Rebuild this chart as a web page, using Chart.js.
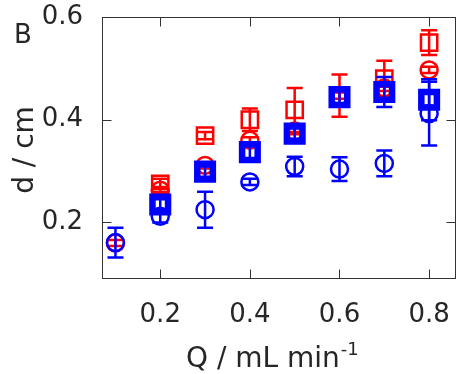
<!DOCTYPE html>
<html>
<head>
<meta charset="utf-8">
<script src="https://cdn.jsdelivr.net/npm/chart.js@4.4.1/dist/chart.umd.min.js"></script>
<style>
  html, body { margin: 0; padding: 0; background: #fff; }
  #c { display: block; }
</style>
</head>
<body>
<canvas id="c" width="457" height="374"></canvas>
<script>
// values (flow rate in mL/min, diameter in cm)
const flowRate = [0.1, 0.2, 0.3, 0.4, 0.5, 0.6, 0.7, 0.8];
const redSquareD    = [null, 0.275, 0.369, 0.400, 0.419, 0.447, 0.480, 0.550];
const redSquareErr  = [null, 0.010, 0.007, 0.022, 0.043, 0.041, 0.035, 0.024];
const redCircleD    = [0.160, 0.263, 0.311, 0.360, 0.378, 0.447, 0.462, 0.497];
const redCircleErr  = [0.006, 0.006, 0.006, 0.006, 0.006, 0.006, 0.006, 0.006];
const blueCircleD   = [0.161, 0.212, 0.225, 0.279, 0.309, 0.304, 0.315, 0.412];
const blueCircleErr = [0.029, 0.012, 0.035, 0.006, 0.019, 0.023, 0.025, 0.062];
const blueSquareD   = [null, 0.235, 0.299, 0.337, 0.373, 0.444, 0.454, 0.439];
const blueSquareErr = [null, 0.010, 0.010, 0.012, 0.010, 0.012, 0.029, 0.040];

const xTicks = [0.2, 0.4, 0.6, 0.8];
const yTicks = [0.2, 0.4, 0.6];
const xRange = [0.07, 0.86];
const yRange = [0.09, 0.6];

const red = "#FF0000";
const blue = "#0000FF";
const axisColor = "#333333";
const textColor = "#262626";
const fontFamily = "'DejaVu Sans', 'Liberation Sans', sans-serif";

function toPoints(d, e) {
    var pts = [];
    for (var i = 0; i < flowRate.length; i++) {
        if (d[i] === null) continue;
        pts.push({ x: flowRate[i], y: d[i], err: e[i] });
    }
    return pts;
}

// error bars drawn just before each dataset's markers
const errorBars = {
    id: 'errorBars',
    beforeDatasetDraw(chart, args) {
        var ds = chart.data.datasets[args.index];
        var xs = chart.scales.x, ys = chart.scales.y;
        var ctx = chart.ctx;
        ctx.save();
        ctx.strokeStyle = ds.borderColor;
        ctx.lineWidth = 2.5;
        ds.data.forEach(function (p) {
            var px = xs.getPixelForValue(p.x);
            var top = ys.getPixelForValue(p.y + p.err);
            var bot = ys.getPixelForValue(p.y - p.err);
            ctx.beginPath();
            ctx.moveTo(px, top); ctx.lineTo(px, bot);
            ctx.moveTo(px - 8, top); ctx.lineTo(px + 8, top);
            ctx.moveTo(px - 8, bot); ctx.lineTo(px + 8, bot);
            ctx.stroke();
        });
        ctx.restore();
    }
};

// matlab style box with inward ticks + labels
const frame = {
    id: 'frame',
    afterDatasetsDraw(chart) {
        var a = chart.chartArea, ctx = chart.ctx;
        var xs = chart.scales.x, ys = chart.scales.y;
        var L = Math.round(a.left) + 0.5, R = Math.round(a.right) - 0.5;
        var T = Math.round(a.top) + 0.5, B = Math.round(a.bottom) - 0.5;
        ctx.save();
        ctx.strokeStyle = axisColor;
        ctx.lineWidth = 1;
        ctx.strokeRect(L, T, R - L, B - T);
        ctx.beginPath();
        xTicks.forEach(function (v) {
            var px = Math.round(xs.getPixelForValue(v)) + 0.5;
            ctx.moveTo(px, B); ctx.lineTo(px, B - 9);
            ctx.moveTo(px, T); ctx.lineTo(px, T + 9);
        });
        yTicks.forEach(function (v) {
            var py = Math.round(ys.getPixelForValue(v)) + 0.5;
            ctx.moveTo(L, py); ctx.lineTo(L + 9, py);
            ctx.moveTo(R, py); ctx.lineTo(R - 9, py);
        });
        ctx.stroke();
        ctx.restore();
    },
    afterDraw(chart) {
        var ctx = chart.ctx;
        ctx.save();
        ctx.fillStyle = textColor;
        ctx.textBaseline = 'alphabetic';

        ctx.font = "26px " + fontFamily;
        ctx.textAlign = 'left';
        ctx.fillText('B', 14, 43);

        // x title with superscript
        ctx.font = "28px " + fontFamily;
        var main = 'Q / mL min';
        var w1 = ctx.measureText(main).width;
        ctx.fillText(main, 186, 367);
        ctx.font = "18px " + fontFamily;
        ctx.fillText('-1', 186 + w1 + 1, 355);

        // y title
        ctx.font = "28px " + fontFamily;
        ctx.translate(33, 150);
        ctx.rotate(-Math.PI / 2);
        ctx.textAlign = 'center';
        ctx.fillText('d / cm', 0, 0);
        ctx.restore();
    }
};

new Chart(document.getElementById('c'), {
    type: 'scatter',
    data: {
        datasets: [
            {
                label: 'red squares',
                data: toPoints(redSquareD, redSquareErr),
                borderColor: red, backgroundColor: 'rgba(0,0,0,0)',
                pointStyle: 'rect', pointRadius: 11.5, borderWidth: 2.5,
                order: 4
            },
            {
                label: 'red circles',
                data: toPoints(redCircleD, redCircleErr),
                borderColor: red, backgroundColor: 'rgba(0,0,0,0)',
                pointStyle: 'circle', pointRadius: 8.5, borderWidth: 2.5,
                order: 3
            },
            {
                label: 'blue circles',
                data: toPoints(blueCircleD, blueCircleErr),
                borderColor: blue, backgroundColor: 'rgba(0,0,0,0)',
                pointStyle: 'circle', pointRadius: 8.5, borderWidth: 2.5,
                order: 2
            },
            {
                label: 'blue squares',
                data: toPoints(blueSquareD, blueSquareErr),
                borderColor: blue, backgroundColor: 'rgba(0,0,0,0)',
                pointStyle: 'rect', pointRadius: 11, borderWidth: 6.5,
                order: 1
            }
        ]
    },
    options: {
        responsive: false,
        animation: false,
        devicePixelRatio: 1,
        layout: { autoPadding: false, padding: { top: 17, right: 1, left: 0, bottom: 0 } },
        plugins: { legend: { display: false }, tooltip: { enabled: false } },
        scales: {
            x: {
                type: 'linear', min: xRange[0], max: xRange[1],
                grid: { display: false }, border: { display: false },
                afterBuildTicks: function (axis) { axis.ticks = xTicks.map(function (v) { return { value: v }; }); },
                afterFit: function (axis) {
                    axis.height = 95;
                    axis.paddingLeft = 0; axis.paddingRight = 0;
                },
                ticks: {
                    padding: 13, color: textColor, font: { family: fontFamily, size: 26 },
                    callback: function (v) { return v.toFixed(1); }
                }
            },
            y: {
                type: 'linear', min: yRange[0], max: yRange[1],
                grid: { display: false }, border: { display: false },
                afterBuildTicks: function (axis) { axis.ticks = yTicks.map(function (v) { return { value: v }; }); },
                afterFit: function (axis) {
                    axis.width = 102;
                    axis.paddingTop = 0; axis.paddingBottom = 0;
                },
                ticks: {
                    padding: 11, color: textColor, font: { family: fontFamily, size: 26 },
                    callback: function (v) { return v.toFixed(1); }
                }
            }
        }
    },
    plugins: [errorBars, frame]
});
</script>
</body>
</html>
